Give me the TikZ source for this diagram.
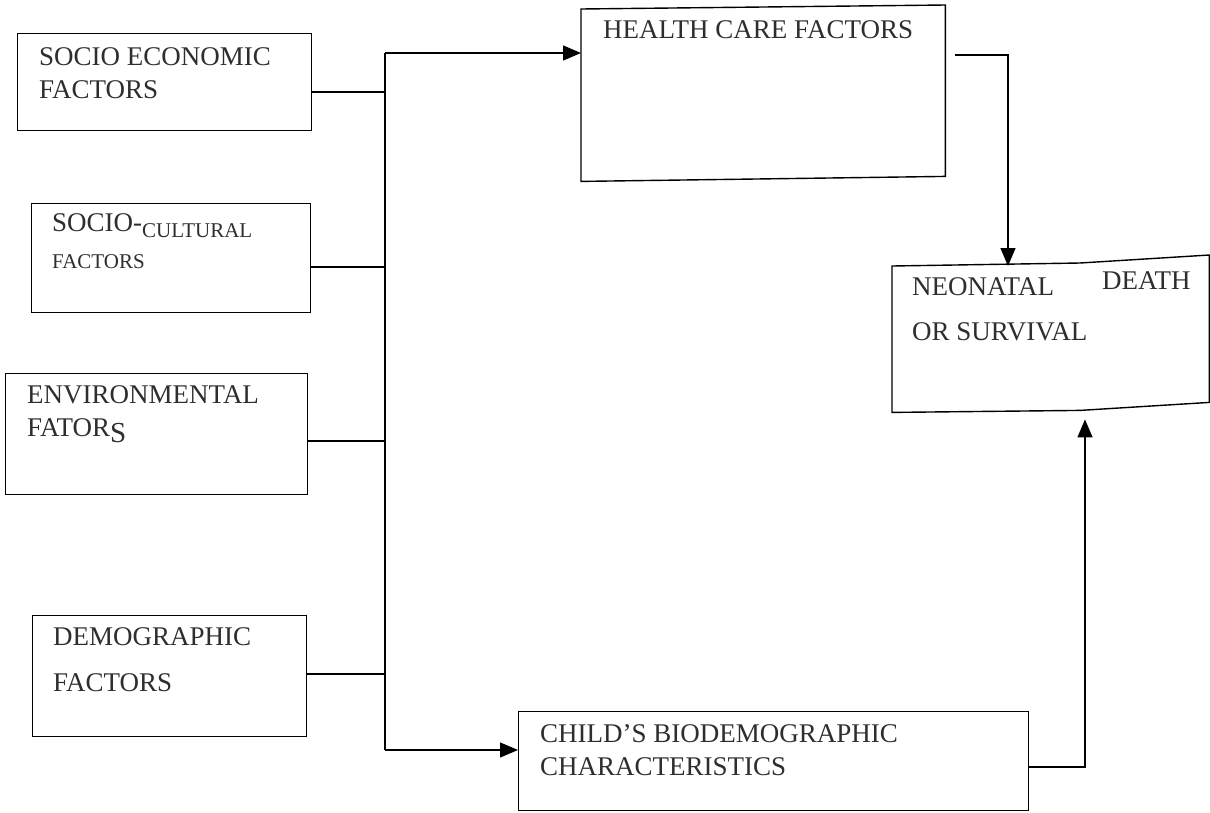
\documentclass[tikz,border=0pt]{standalone}
\usepackage{fontspec}
\setmainfont{Liberation Serif}
\usetikzlibrary{arrows.meta,calc}
\begin{document}
\begin{tikzpicture}[x=1pt,y=1pt,
  box/.style={draw, line width=1.4pt, anchor=north west, inner sep=0pt},
  ghost/.style={anchor=north west, inner sep=0pt},
  edge/.style={line width=1.4pt, line join=miter},
  lbl/.style={anchor=north west, align=left, inner sep=0pt, text=black!82,
              font=\fontsize{27}{33}\selectfont},
  small/.style={font=\fontsize{21}{24}\selectfont},
  conn/.style={line width=1.4pt},
  arr/.style={line width=1.4pt, -{Triangle[length=18pt,width=15pt]}}]
\useasboundingbox (0,0) rectangle (1210,-812);
% boxes
\node[box, minimum width=294, minimum height=97] (se) at (17,-33) {};
\node[box, minimum width=279, minimum height=109] (sc) at (31,-203) {};
\node[box, minimum width=302, minimum height=121] (en) at (5,-373) {};
\node[box, minimum width=274, minimum height=121] (de) at (32,-615) {};
\node[ghost, minimum width=364, minimum height=172] (hc) at (581,-9) {};
\draw[edge] (hc.north west) -- ($(hc.north east)+(0,4)$) -- ($(hc.south east)+(0,5)$) -- (hc.south west) -- cycle;
\node[box, minimum width=510, minimum height=99] (cb) at (518,-711) {};
\node[ghost, minimum width=317, minimum height=146] (nd) at (892,-266) {};
\draw[edge] (nd.north west) -- ($(nd.north west)+(188,3)$) -- ($(nd.north east)+(0,11)$)
  -- ($(nd.south east)+(0,10)$) -- ($(nd.south west)+(188,2)$) -- (nd.south west) -- cycle;
% labels
\node[lbl] (tse) at (39,-47) {SOCIO ECONOMIC\\FACTORS};
\node[lbl, font=\fontsize{27}{37}\selectfont] (tsc) at (52,-213)
  {SOCIO-\raisebox{-6pt}{\fontsize{21}{24}\selectfont CULTURAL}\\
   {\fontsize{21}{24}\selectfont FACTORS}};
\node[lbl] (ten) at (27,-385) {ENVIRONMENTAL\\FATOR\raisebox{-6pt}{\fontsize{29}{30}\selectfont S}};
\node[lbl, font=\fontsize{27}{46}\selectfont] (tde) at (53,-627) {DEMOGRAPHIC\\FACTORS};
\node[lbl] (thc) at (603,-20) {HEALTH CARE FACTORS};
\node[lbl] (tcb) at (540,-724) {CHILD’S BIODEMOGRAPHIC\\CHARACTERISTICS};
\node[lbl] (tnd) at (912,-277) {NEONATAL};
\node[lbl] (tnd2) at (1102,-271) {DEATH};
\node[lbl] (tnd3) at (912,-322) {OR SURVIVAL};
% bus
\coordinate (btop) at (385,-53);
\coordinate (bbot) at (385,-750);
\coordinate (j1) at (385,-92);
\coordinate (j2) at (385,-267);
\coordinate (j3) at (385,-441);
\coordinate (j4) at (385,-674);
\draw[conn] (btop) -- (bbot);
\draw[conn] (se.east |- j1) -- (j1);
\draw[conn] (sc.east |- j2) -- (j2);
\draw[conn] (en.east |- j3) -- (j3);
\draw[conn] (de.east |- j4) -- (j4);
\draw[arr] (btop) -- (hc.west |- btop);
\draw[arr] (bbot) -- (cb.west |- bbot);
% to outcome
\coordinate (hco) at (955,-55);
\coordinate (hcc) at (1008,-55);
\draw[arr] (hco) -- (hcc) -- (hcc |- nd.north);
\coordinate (cbo) at (1028,-767);
\coordinate (cbc) at (1085,-767);
\draw[arr, shorten >=7pt] (cb.east |- cbo) -- (cbc) -- (cbc |- nd.south);
\end{tikzpicture}
\end{document}
